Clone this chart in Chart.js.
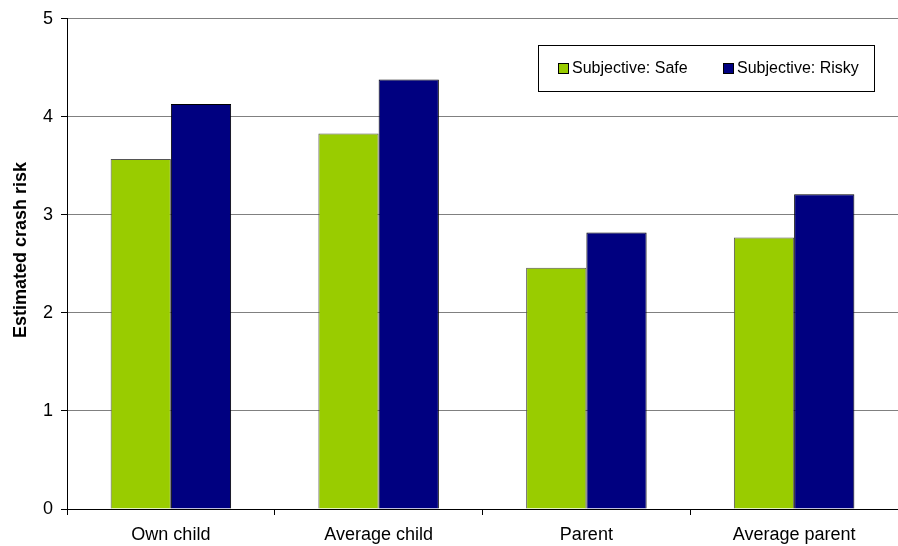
<!DOCTYPE html>
<html>
<head>
<meta charset="utf-8">
<script src="https://cdn.jsdelivr.net/npm/chart.js@4/dist/chart.umd.min.js"></script>
<style>
  html,body{margin:0;padding:0;background:#fff;}
  #wrap{width:898px;height:546px;position:relative;}
</style>
</head>
<body>
<div id="wrap"><canvas id="chartRisk"></canvas></div>
<script>
const CATEGORIES = ["Own child","Average child","Parent","Average parent"];
const SAFE = [3.57, 3.83, 2.46, 2.77];
const RISKY = [4.13, 4.38, 2.82, 3.21];
const Y_TICKS = [0,1,2,3,4,5];
const Y_TITLE = "Estimated crash risk";

const COLORS = { safe:"#99CC00", risky:"#000080", ink:"#000", grid:"#808080" };
const FONT = "Arial, 'Liberation Sans', sans-serif";

// legend drawn as a framed box inside the plot area
const boxLegend = {
  id:"boxLegend",
  afterDraw(chart){
    const { ctx } = chart;
    const x = 538, y = 45, w = 336, h = 46;
    ctx.save();
    ctx.fillStyle = "#fff";
    ctx.fillRect(x, y, w, h);
    ctx.strokeStyle = "#000";
    ctx.lineWidth = 1;
    ctx.strokeRect(x + 0.5, y + 0.5, w, h);
    ctx.font = "16px " + FONT;
    ctx.textBaseline = "middle";
    let cx = x + 20;
    chart.data.datasets.forEach(ds => {
      ctx.fillStyle = ds.backgroundColor;
      ctx.fillRect(cx, y + 18, 11, 11);
      ctx.strokeStyle = "#000";
      ctx.strokeRect(cx + 0.5, y + 18.5, 10, 10);
      ctx.fillStyle = COLORS.ink;
      ctx.fillText(ds.label, cx + 14, y + 24);
      cx += 165;
    });
    ctx.restore();
  }
};

// rotated y-axis caption
const yCaption = {
  id:"yCaption",
  afterDraw(chart){
    const { ctx } = chart;
    ctx.save();
    ctx.translate(21, 250);
    ctx.rotate(-Math.PI / 2);
    ctx.font = "bold 18px " + FONT;
    ctx.fillStyle = COLORS.ink;
    ctx.textAlign = "center";
    ctx.textBaseline = "middle";
    ctx.fillText(Y_TITLE, 0, 0);
    ctx.restore();
  }
};

new Chart(document.getElementById("chartRisk"), {
  type:"bar",
  data:{ labels:CATEGORIES, datasets:[
    { label:"Subjective: Safe", data:SAFE, backgroundColor:COLORS.safe, borderColor:"#555", borderWidth:1 },
    { label:"Subjective: Risky", data:RISKY, backgroundColor:COLORS.risky, borderColor:"#000", borderWidth:1 },
  ]},
  options:{
    responsive:true, maintainAspectRatio:false, animation:false,
    layout:{ padding:{ top:17, right:0, left:0, bottom:0 } },
    plugins:{ legend:{ display:false }, tooltip:{ enabled:false } },
    datasets:{ bar:{ categoryPercentage:0.58, barPercentage:1 } },
    scales:{
      x:{
        offset:true,
        grid:{ offset:true, drawOnChartArea:false, color:COLORS.ink, tickLength:6 },
        border:{ color:COLORS.ink },
        ticks:{ color:COLORS.ink, font:{ family:FONT, size:18 }, padding:9, maxRotation:0 },
        afterFit(s){ s.height = 37; }
      },
      y:{
        min:0, max:5,
        afterBuildTicks(s){ s.ticks = Y_TICKS.map(v => ({ value:v })); },
        grid:{ color:COLORS.grid, tickColor:COLORS.ink, tickLength:6 },
        border:{ color:COLORS.ink },
        ticks:{ color:COLORS.ink, font:{ family:FONT, size:18 }, padding:8 },
        afterFit(s){ s.width = 67; }
      }
    }
  },
  plugins:[boxLegend, yCaption]
});
</script>
</body>
</html>
